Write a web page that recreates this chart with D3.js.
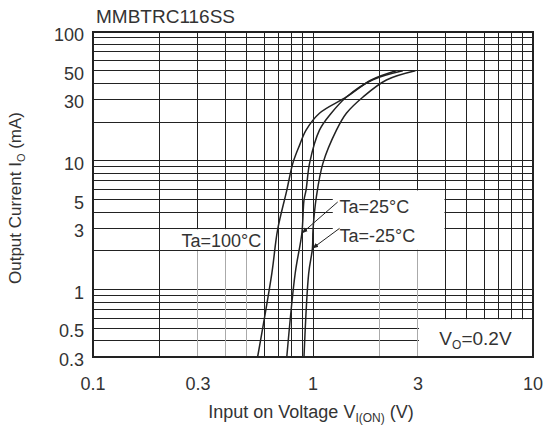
<!DOCTYPE html>
<html lang="en">
<head>
<meta charset="UTF-8">
<title>MMBTRC116SS</title>
<script src="https://d3js.org/d3.v7.min.js"></script>
<style>
  body { margin: 0; background: #fff; }
  svg text { font-family: "Liberation Sans", Arial, sans-serif; fill: #333; font-size: 18px; }
</style>
</head>
<body>
<script>
const width = 543, height = 438;
const plotL = 93, plotR = 533, plotT = 32, plotB = 357;

// axis ticks and grid
const xTicks = [0.1, 0.3, 1, 3, 10];
const yTicks = [100, 50, 30, 10, 5, 3, 1, 0.5, 0.3];
const xGrid = [0.2, 0.3, 0.4, 0.5, 0.6, 0.7, 0.8, 0.9, 1, 2, 3, 4, 5, 6, 7, 8, 9];
const yGrid = [0.4, 0.5, 0.6, 0.7, 0.8, 0.9, 1, 2, 3, 4, 5, 6, 7, 8, 9,
               10, 20, 30, 40, 50, 60, 70, 80, 90];
const xGridLight = [0.3, 0.4, 0.5, 2, 3];   // grey below 2 mA

// curves: input voltage (V) vs output current (mA)
const ta100V = [0.56, 0.65, 0.69, 0.76, 0.81, 0.87, 0.93, 1.07, 1.42, 1.84, 2.39];
const ta100I = [0.3, 1.34, 2.9, 5.9, 9.6, 13.3, 17.3, 23.4, 31.3, 42.4, 50];
const ta25V = [0.76, 0.83, 0.89, 0.91, 0.93, 0.965, 1.07, 1.21, 1.42, 1.86, 2.56];
const ta25I = [0.3, 1.34, 2.74, 4.96, 5.93, 9.6, 17.3, 23.4, 31.3, 42.4, 50];
const taM25V = [0.91, 0.956, 0.994, 1.0, 1.036, 1.11, 1.278, 1.418, 1.688, 2.156, 2.92];
const taM25I = [0.3, 1.34, 2.09, 2.9, 5.26, 9.6, 17.3, 23.4, 31.3, 42.4, 50];

const svg = d3.select("body").append("svg")
    .attr("width", width).attr("height", height);

const x = d3.scaleLog().domain([0.1, 10]).range([plotL, plotR]);
const y = d3.scaleLog().domain([0.3, 100]).range([plotB, plotT]);

svg.append("defs").append("marker")
    .attr("id", "tip")
    .attr("viewBox", "0 0 10 10")
    .attr("refX", 10).attr("refY", 5)
    .attr("markerWidth", 6).attr("markerHeight", 6)
    .attr("orient", "auto")
  .append("path")
    .attr("d", "M0,1L10,5L0,9Z")
    .attr("fill", "#222");

const grid = svg.append("g").attr("shape-rendering", "crispEdges");

// horizontal grid
grid.selectAll("line.h")
    .data(yGrid)
    .enter().append("line")
    .attr("class", "h")
    .attr("x1", plotL).attr("x2", plotR)
    .attr("y1", d => y(d)).attr("y2", d => y(d))
    .attr("stroke", "#222");

// vertical grid, upper part
grid.selectAll("line.v")
    .data(xGrid)
    .enter().append("line")
    .attr("class", "v")
    .attr("x1", d => x(d)).attr("x2", d => x(d))
    .attr("y1", plotT)
    .attr("y2", d => xGridLight.includes(d) ? y(2) : plotB)
    .attr("stroke", "#222");

// vertical grid, grey lower part
grid.selectAll("line.vl")
    .data(xGridLight)
    .enter().append("line")
    .attr("class", "vl")
    .attr("x1", d => x(d)).attr("x2", d => x(d))
    .attr("y1", y(2)).attr("y2", plotB)
    .attr("stroke", "#aaa");

// white areas behind the labels
const masks = [
    [x(0.2) + 1, y(3) + 1, x(0.6) - 1, y(2) - 1],
    [x(1.23), y(6) + 1, x(4) - 1, y(2) - 1],
    [x(3) + 1, y(0.6) + 1, plotR, plotB]
];
svg.selectAll("rect.mask")
    .data(masks)
    .enter().append("rect")
    .attr("class", "mask")
    .attr("x", d => d[0]).attr("y", d => d[1])
    .attr("width", d => d[2] - d[0]).attr("height", d => d[3] - d[1])
    .attr("fill", "#fff");

// frame
svg.append("rect")
    .attr("x", plotL).attr("y", plotT)
    .attr("width", plotR - plotL).attr("height", plotB - plotT)
    .attr("fill", "none")
    .attr("stroke", "#222")
    .attr("stroke-width", 2);

// curves
const line = d3.line()
    .x(d => x(d[0]))
    .y(d => y(d[1]))
    .curve(d3.curveCatmullRom.alpha(0.5));

const series = [
    d3.zip(ta100V, ta100I),
    d3.zip(ta25V, ta25I),
    d3.zip(taM25V, taM25I)
];
svg.selectAll("path.curve")
    .data(series)
    .enter().append("path")
    .attr("class", "curve")
    .attr("d", line)
    .attr("fill", "none")
    .attr("stroke", "#222")
    .attr("stroke-width", 1.5);

// leaders for 25 and -25 labels
const leaders = [
    [[1.295, 4.79], [ta25V[2], ta25I[2]]],
    [[1.32, 2.99], [taM25V[2], taM25I[2]]]
];
svg.selectAll("line.leader")
    .data(leaders)
    .enter().append("line")
    .attr("class", "leader")
    .attr("x1", d => x(d[0][0])).attr("y1", d => y(d[0][1]))
    .attr("x2", d => x(d[1][0])).attr("y2", d => y(d[1][1]))
    .attr("stroke", "#222")
    .attr("stroke-width", 1)
    .attr("marker-end", "url(#tip)");

// curve labels
svg.append("text")
    .attr("x", x(0.6) - 3).attr("y", y(2) - 4)
    .attr("text-anchor", "end")
    .text("Ta=100°C");
svg.append("text")
    .attr("x", x(1.32)).attr("y", y(3.93))
    .text("Ta=25°C");
svg.append("text")
    .attr("x", x(1.32)).attr("y", y(2.34))
    .text("Ta=-25°C");

// Vo box label
const vo = svg.append("text")
    .attr("x", (x(3) + plotR) / 2)
    .attr("y", (y(0.6) + plotB) / 2 + 7)
    .attr("text-anchor", "middle")
    .style("font-size", "19px");
vo.append("tspan").text("V");
vo.append("tspan").style("font-size", "12px").attr("dy", 4).text("O");
vo.append("tspan").attr("dy", -4).text("=0.2V");

// tick labels
svg.selectAll("text.xt")
    .data(xTicks)
    .enter().append("text")
    .attr("class", "xt")
    .attr("x", d => x(d)).attr("y", 390)
    .attr("text-anchor", "middle")
    .text(d => d);

svg.selectAll("text.yt")
    .data(yTicks)
    .enter().append("text")
    .attr("class", "yt")
    .attr("x", 84).attr("y", d => y(d) + 9)
    .attr("text-anchor", "end")
    .text(d => d);

// titles
svg.append("text")
    .attr("x", 96).attr("y", 23)
    .style("font-size", "19px")
    .text("MMBTRC116SS");

const xt = svg.append("text")
    .attr("x", 311).attr("y", 418)
    .attr("text-anchor", "middle");
xt.append("tspan").text("Input on Voltage V");
xt.append("tspan").style("font-size", "12px").attr("dy", 4).text("I(ON)");
xt.append("tspan").attr("dy", -4).text(" (V)");

const yt = svg.append("text")
    .attr("transform", "translate(21,198) rotate(-90)")
    .attr("text-anchor", "middle")
    .style("font-size", "17px");
yt.append("tspan").text("Output Current I");
yt.append("tspan").style("font-size", "11px").attr("dy", 4).text("O");
yt.append("tspan").attr("dy", -4).text(" (mA)");
</script>
</body>
</html>
